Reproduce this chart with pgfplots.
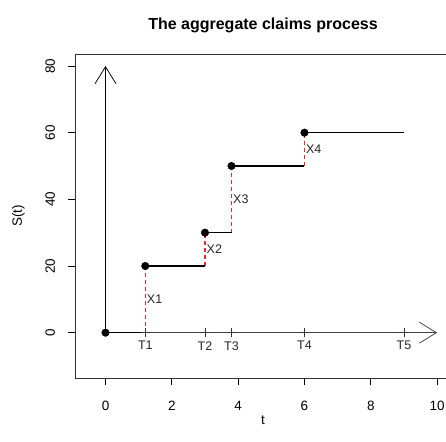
\documentclass[border=0pt]{standalone}
\usepackage{pgfplots}
\pgfplotsset{compat=1.18}
\usepackage{fontspec}
\setmainfont{Liberation Sans}
\usetikzlibrary{arrows.meta}
\newcommand\lbl{\fontsize{13.5bp}{16bp}\selectfont}
\newcommand\txt{\fontsize{12.5bp}{15bp}\selectfont}

\begin{document}
\begin{tikzpicture}
\begin{axis}[
    scale only axis,
    width=376bp, height=324bp,
    xmin=-0.92, xmax=10.42,
    ymin=-13.6, ymax=83.6,
    axis x line*=box, axis y line*=left,
    xtick={0,2,...,10},
    ytick={0,20,...,80},
    xtick pos=bottom, ytick pos=left,
    tick align=outside,
    major tick length=7bp,
    tick style={black, line width=0.75bp},
    axis line style={black!80, line width=0.9bp, -},
    /pgf/number format/assume math mode=true,
    tick label style={font=\lbl},
    xticklabel style={anchor=base, yshift=-25bp},
    yticklabel style={xshift=-13bp, rotate=90, anchor=base},
    title={The aggregate claims process},
    title style={font=\fontsize{16bp}{19bp}\selectfont\bfseries,
        at={(rel axis cs:0.5,1)}, anchor=base, yshift=19bp},
    xlabel={t},
    xlabel style={font=\lbl,
        at={(rel axis cs:0.5,0)}, anchor=base, yshift=-46bp},
    ylabel={S(t)},
    ylabel style={font=\lbl,
        at={([xshift=-53bp]rel axis cs:0,0.5)}, anchor=base},
    clip=false,
]
% axes of the process
\addplot[black, line width=0.75bp, -{Straight Barb[length=17bp, width=21bp, line width=0.75bp]}]
    coordinates {(0,0) (0,80)};
\addplot[black!75, line width=0.75bp, -{Straight Barb[length=17bp, width=21bp, line width=0.75bp]}]
    coordinates {(0,0) (10,0)};
% jumps X1..X4
\definecolor{jumpred}{RGB}{240,40,40}
\pgfplotsset{jump/.style={draw=jumpred, line width=1.4bp, dash pattern=on 4bp off 3bp}}
\addplot[jump] coordinates {(1.2,0) (1.2,20)};
\addplot[jump] coordinates {(3,20) (3,30)};
\addplot[jump] coordinates {(3.8,30) (3.8,50)};
\addplot[jump] coordinates {(6,50) (6,60)};
% step function S(t)
\addplot[black, line width=1.6bp, jump mark left]
    coordinates {(0,0) (1.2,20) (3,30) (3.8,50) (6,60) (9,60)};
% arrival times
\addplot[only marks, mark=+, mark size=4.5bp, black!80, line width=0.75bp]
    coordinates {(1.2,0) (3,0) (3.8,0) (6,0) (9,0)};
\addplot[only marks, mark=*, mark size=3.8bp, black]
    coordinates {(0,0) (1.2,20) (3,30) (3.8,50) (6,60)};
% labels
\node[anchor=west, inner sep=1.5bp, font=\txt, text=black!85] at (axis cs:1.2,10) {X1};
\node[anchor=west, inner sep=1.5bp, font=\txt, text=black!85] at (axis cs:3,25) {X2};
\node[anchor=west, inner sep=1.5bp, font=\txt, text=black!85] at (axis cs:3.8,40) {X3};
\node[anchor=west, inner sep=1.5bp, font=\txt, text=black!85] at (axis cs:6,55) {X4};
\node[anchor=north, inner sep=0bp, yshift=-8.5bp, font=\txt, text=black!85] at (axis cs:1.2,0) {T1};
\node[anchor=north, inner sep=0bp, yshift=-8.5bp, font=\txt, text=black!85] at (axis cs:3,0) {T2};
\node[anchor=north, inner sep=0bp, yshift=-8.5bp, font=\txt, text=black!85] at (axis cs:3.8,0) {T3};
\node[anchor=north, inner sep=0bp, yshift=-8.5bp, font=\txt, text=black!85] at (axis cs:6,0) {T4};
\node[anchor=north, inner sep=0bp, yshift=-8.5bp, font=\txt, text=black!85] at (axis cs:9,0) {T5};
\coordinate (bbsw) at (rel axis cs:-0.19947,-0.19444);
\coordinate (bbne) at (rel axis cs:0.98670,1.16667);
\end{axis}
\pgfresetboundingbox
\path[use as bounding box] (bbsw) rectangle (bbne);
\end{tikzpicture}
\end{document}
